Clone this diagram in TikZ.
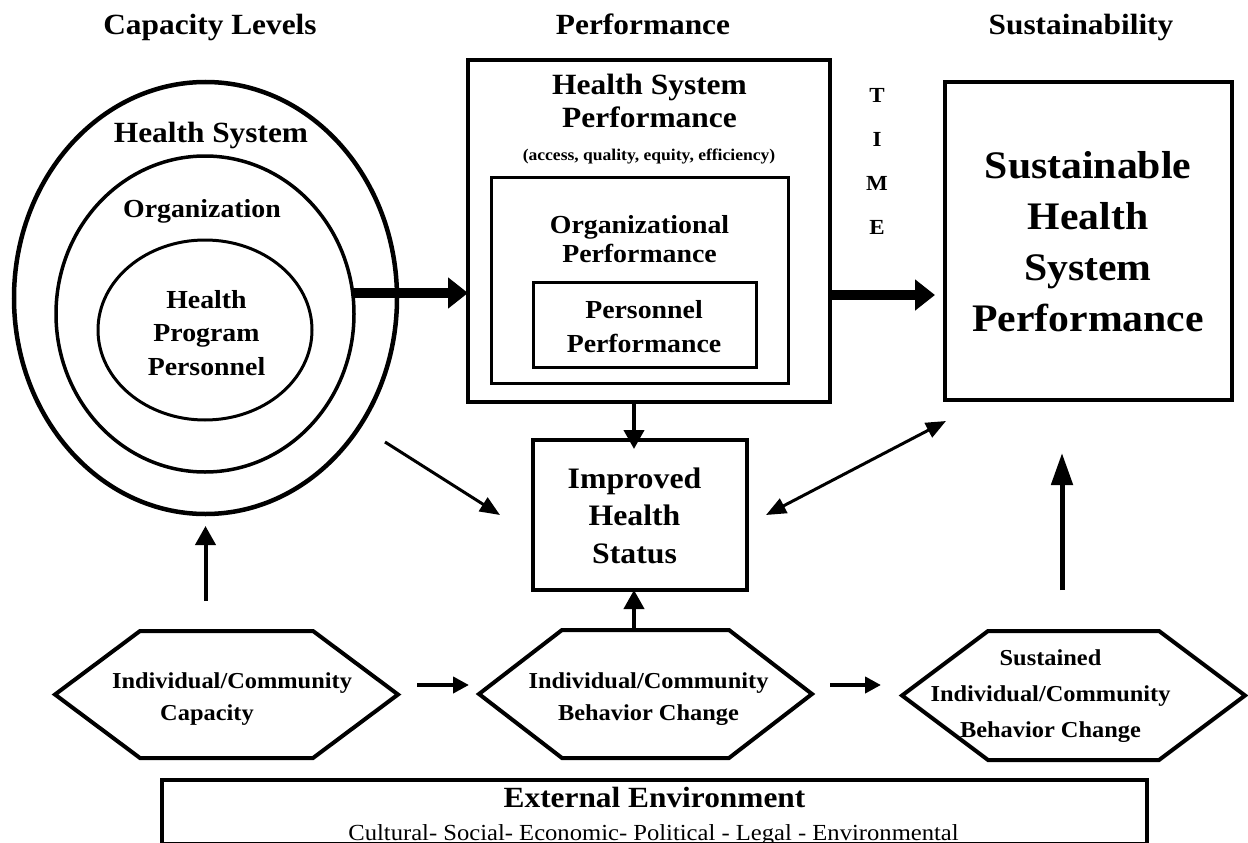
\documentclass[tikz,border=0pt]{standalone}
\usepackage{fontspec}
\setmainfont{Liberation Serif}[FakeStretch=1.07]
\usetikzlibrary{shapes.geometric,arrows.meta,calc}
\newcommand\fsz[2]{\fontsize{#1}{#2}\selectfont}
\newcommand\hexdraw[2]{\draw[hexline] (#1.west) -- ($(#1.north west)+(#2,0)$) -- ($(#1.north east)+(-#2,0)$) -- (#1.east) -- ($(#1.south east)+(-#2,0)$) -- ($(#1.south west)+(#2,0)$) -- cycle;}
\begin{document}
\begin{tikzpicture}[x=1pt,y=-1pt,line join=miter,
  lbl/.style={inner sep=0pt,outer sep=0pt,align=center,anchor=base,font=\bfseries},
  boxframe/.style={draw,rectangle,inner sep=0pt,outer sep=0pt},
  ringshape/.style={draw,ellipse,inner sep=0pt,outer sep=0pt},
  hexbox/.style={rectangle,inner sep=0pt,outer sep=0pt},
  hexline/.style={line width=4pt},
  bigarrow/.style={line width=10pt,-{Triangle[length=20pt,width=30pt]}},
  vertarrow/.style={line width=4pt,-{Triangle[length=19pt,width=20pt]}},
  diagarrow/.style={line width=3pt,-{Triangle[length=20pt,width=16pt]}},
  diagboth/.style={line width=3pt,{Triangle[length=20pt,width=16pt]}-{Triangle[length=20pt,width=16pt]}},
  hexarrow/.style={line width=4pt,-{Triangle[length=16pt,width=16pt]}},
  tallarrow/.style={line width=5pt,-{Triangle[length=32pt,width=21pt]}}
]
\fill[white] (0,0) rectangle (1248,843);
\useasboundingbox (0,0) rectangle (1248,843);

% column titles
\node[lbl,font=\bfseries\fsz{29.3}{34}] (ttlA) at (210,35) {Capacity Levels};
\node[lbl,font=\bfseries\fsz{29.3}{34}] (ttlB) at (643,35) {Performance};
\node[lbl,font=\bfseries\fsz{29.3}{34}] (ttlC) at (1081,35) {Sustainability};

% capacity ellipses
\node[ringshape,line width=4.5pt,minimum width=383pt,minimum height=432pt] (outer) at (205.5,298) {};
\node[ringshape,line width=3.5pt,minimum width=298pt,minimum height=316pt] (mid) at (205,314) {};
\node[ringshape,line width=3pt,minimum width=214pt,minimum height=180pt] (inn) at (205,330) {};
\node[lbl,font=\bfseries\fsz{29.3}{34}] (hsLbl) at (211,142) {Health System};
\node[lbl,font=\bfseries\fsz{26}{30}] (orgLbl) at (202,217) {Organization};
\node[lbl,font=\bfseries\fsz{26}{33.5}] (hppLbl) at (206.5,375) {Health\\Program\\Personnel};

% performance boxes
\node[boxframe,line width=4.5pt,minimum width=362pt,minimum height=342pt] (hsp) at (649,231) {};
\node[boxframe,line width=3pt,minimum width=297pt,minimum height=206pt] (orgp) at (639.5,280) {};
\node[boxframe,line width=3pt,minimum width=223pt,minimum height=85pt] (pers) at (644.5,324.5) {};
\node[lbl,font=\bfseries\fsz{29.4}{33}] (hspLbl) at (649.5,128) {Health System\\Performance};
\node[lbl,font=\bfseries\fsz{16.4}{19}] (accLbl) at (649,160) {(access, quality, equity, efficiency)};
\node[lbl,font=\bfseries\fsz{26}{29}] (orgpLbl) at (639.5,262) {Organizational\\Performance};
\node[lbl,font=\bfseries\fsz{26}{34}] (persLbl) at (644,352) {Personnel\\Performance};

% time
\node[lbl,font=\bfseries\fsz{21.5}{44}] (timeLbl) at (877,234) {T\\I\\M\\E};

% sustainability box
\node[boxframe,line width=4.5pt,minimum width=287pt,minimum height=318pt] (sust) at (1088.5,241) {};
\node[lbl,font=\bfseries\fsz{39}{50.7}] (sustLbl) at (1088,331) {Sustainable\\Health\\System\\Performance};

% improved health status
\node[boxframe,line width=4pt,minimum width=214pt,minimum height=150pt] (impr) at (640,515) {};
\node[lbl,font=\bfseries\fsz{29.7}{37.5}] (imprLbl) at (634.5,563) {Improved\\Health\\Status};

% hexagons
\node[hexbox,minimum width=343pt,minimum height=127pt] (hex1) at (226.5,694.5) {};
\node[hexbox,minimum width=333pt,minimum height=128pt] (hex2) at (645.5,694) {};
\node[hexbox,minimum width=343pt,minimum height=129pt] (hex3) at (1073.5,695.5) {};
\hexdraw{hex1}{85}
\hexdraw{hex2}{83}
\hexdraw{hex3}{86}
\node[lbl,font=\bfseries\fsz{22.8}{32}] (h1Lbl) at (232,720) {Individual/Community\\Capacity\hspace*{50pt}};
\node[lbl,font=\bfseries\fsz{22.8}{32}] (h2Lbl) at (648.5,720) {Individual/Community\\Behavior Change};
\node[lbl,font=\bfseries\fsz{22.8}{36}] (h3Lbl) at (1050.5,737) {Sustained\\Individual/Community\\Behavior Change};

% external environment
\node[boxframe,line width=3.5pt,minimum width=985pt,minimum height=64pt] (ext) at (654.5,812) {};
\node[lbl,font=\bfseries\fsz{29.3}{34}] (extLbl) at (654.5,807) {External Environment};
\node[lbl,font=\fsz{23}{27}] (cultLbl) at (653.5,840) {Cultural- Social- Economic- Political - Legal - Environmental};

% connectors
\coordinate (yA) at (0,293);
\coordinate (yB) at (0,295);
\coordinate (yC) at (0,685);
\coordinate (xA) at (634,0);
\coordinate (xB) at (1062,0);
\coordinate (dA) at (385,442);
\draw[bigarrow] (mid.east |- yA) -- (hsp.west |- yA);
\draw[bigarrow,shorten >=10pt] (hsp.east |- yB) -- (sust.west |- yB);
\draw[vertarrow,shorten >=-9pt] (hsp.south -| xA) -- (impr.north -| xA);
\draw[vertarrow] (hex2.north -| xA) -- (impr.south -| xA);
\draw[diagarrow] (dA) -- ($(impr.west)+(-33,0)$);
\draw[diagboth] ($(impr.east)+(19,0)$) -- ($(sust.south west)+(1,21)$);
\draw[vertarrow,shorten <=30pt,shorten >=12pt] (outer.south |- hex1.north) -- (outer.south);
\draw[tallarrow,shorten <=41pt,shorten >=53pt] (hex3.north -| xB) -- (sust.south -| xB);
\draw[hexarrow,shorten <=19pt,shorten >=10pt] (hex1.east |- yC) -- (hex2.west |- yC);
\draw[hexarrow,shorten <=18pt,shorten >=21pt] (hex2.east |- yC) -- (hex3.west |- yC);
\end{tikzpicture}
\end{document}
